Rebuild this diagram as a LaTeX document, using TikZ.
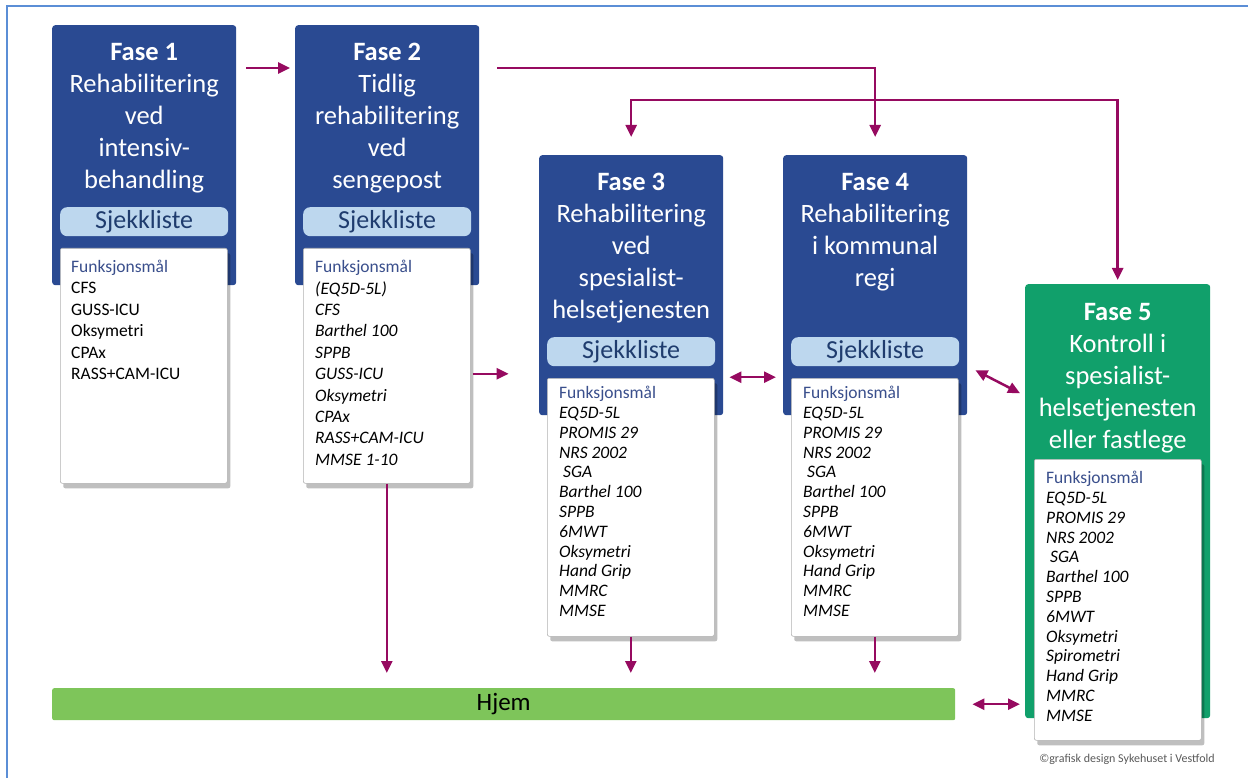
\documentclass[tikz,border=0pt]{standalone}
\usepackage{fontspec}
\setmainfont{Carlito}
\usepackage{tikz}
\usetikzlibrary{arrows.meta,positioning,calc,shadows}
\definecolor{faseblaa}{HTML}{2A4A92}
\definecolor{fasegronn}{HTML}{11A06B}
\definecolor{hjemgronn}{HTML}{7EC55A}
\definecolor{sjekkfarge}{HTML}{BDD7EE}
\definecolor{sjekktekst}{HTML}{1F3C6E}
\definecolor{maalfarge}{HTML}{3A4F8C}
\definecolor{pilfarge}{HTML}{960A60}
\definecolor{rammefarge}{HTML}{5B8ED6}
\tikzset {
    fase/.style={fill=faseblaa, rounded corners=3pt, anchor=north west,
        minimum width=184pt, minimum height=260pt, inner sep=0pt},
    tittel/.style={text=white, align=center, anchor=north, inner sep=0pt,
        font=\fontsize{26.5}{32}\selectfont},
    sjekk/.style={fill=sjekkfarge, rounded corners=7pt, anchor=north west,
        minimum width=168pt, minimum height=29pt, inner sep=0pt,
        text=sjekktekst, font=\fontsize{26}{28}\selectfont},
    liste/.style={fill=white, draw=gray!60, line width=0.6pt,
        rounded corners=2pt, anchor=north west, minimum width=167pt,
        inner sep=0pt, drop shadow={shadow xshift=3pt, shadow yshift=-5pt,
        opacity=0.25, fill=black}},
    listetekst/.style={align=left, anchor=north west, inner sep=0pt,
        font=\fontsize{17.5}{21.4}\selectfont},
    kursivtekst/.style={listetekst,
        font=\fontsize{17.5}{19.8}\selectfont\itshape},
    pil/.style={draw=pilfarge, line width=2.5pt,
        -{Triangle[length=12pt, width=11pt]}},
    dobbelpil/.style={draw=pilfarge, line width=2.5pt,
        {Triangle[length=12pt, width=11pt]}-{Triangle[length=12pt, width=11pt]}}
}
\newcommand{\maal}{{\upshape\color{maalfarge}Funksjonsmål}}

\begin{document}
\begin{tikzpicture}[x=1pt, y=-1pt]

    \useasboundingbox (0,0) rectangle (1248,778);
    % ramme
    \draw[rammefarge, line width=2pt] (7,790) -- (7,6) -- (1260,6);

    % faser
    \node[fase] (fase1) at (52,25) {};
    \node[fase] (fase2) at (295,25) {};
    \node[fase] (fase3) at (539,155) {};
    \node[fase] (fase4) at (783,155) {};
    \node[fase, fill=fasegronn, minimum width=185pt, minimum height=434pt]
        (fase5) at (1025,284) {};

    \node[tittel] (tittel1) at ([yshift=-18pt]fase1.north)
        {\textbf{Fase 1}\\Rehabilitering\\ved\\intensiv-\\behandling};
    \node[tittel] (tittel2) at ([yshift=-18pt]fase2.north)
        {\textbf{Fase 2}\\Tidlig\\rehabilitering\\ved\\sengepost};
    \node[tittel] (tittel3) at ([yshift=-18pt]fase3.north)
        {\textbf{Fase 3}\\Rehabilitering\\ved\\spesialist-\\helsetjenesten};
    \node[tittel] (tittel4) at ([yshift=-18pt]fase4.north)
        {\textbf{Fase 4}\\Rehabilitering\\i kommunal\\regi};
    \node[tittel] (tittel5) at ([yshift=-19pt]fase5.north)
        {\textbf{Fase 5}\\Kontroll i\\spesialist-\\helsetjenesten\\eller fastlege};

    \node[sjekk] (sjekk1) at (60,207) {Sjekkliste};
    \node[sjekk] (sjekk2) at (303,207) {Sjekkliste};
    \node[sjekk] (sjekk3) at (547,337) {Sjekkliste};
    \node[sjekk] (sjekk4) at (791,337) {Sjekkliste};

    % lister
    \node[liste, minimum height=235pt] (liste1) at (60,248) {};
    \node[liste, minimum height=235pt] (liste2) at (303,248) {};
    \node[liste, minimum height=258pt] (liste3) at (547,378) {};
    \node[liste, minimum height=258pt] (liste4) at (791,378) {};
    \node[liste, minimum height=281pt] (liste5) at (1034,459) {};

    \node[listetekst] at ([xshift=11pt, yshift=-12pt]liste1.north west)
        {\maal\\CFS\\GUSS-ICU\\Oksymetri\\CPAx\\RASS+CAM-ICU};
    \node[kursivtekst, font=\fontsize{17.5}{21.4}\selectfont\itshape]
        at ([xshift=12pt, yshift=-12pt]liste2.north west)
        {\maal\\(EQ5D-5L)\\CFS\\Barthel 100\\SPPB\\GUSS-ICU\\Oksymetri\\CPAx\\RASS+CAM-ICU\\MMSE 1-10};
    \node[kursivtekst] at ([xshift=12pt, yshift=-8pt]liste3.north west)
        {\maal\\EQ5D-5L\\PROMIS 29\\NRS 2002\\\ SGA\\Barthel 100\\SPPB\\6MWT\\Oksymetri\\Hand Grip\\MMRC\\MMSE};
    \node[kursivtekst] at ([xshift=12pt, yshift=-8pt]liste4.north west)
        {\maal\\EQ5D-5L\\PROMIS 29\\NRS 2002\\\ SGA\\Barthel 100\\SPPB\\6MWT\\Oksymetri\\Hand Grip\\MMRC\\MMSE};
    \node[kursivtekst] at ([xshift=12pt, yshift=-12pt]liste5.north west)
        {\maal\\EQ5D-5L\\PROMIS 29\\NRS 2002\\\ SGA\\Barthel 100\\SPPB\\6MWT\\Oksymetri\\Spirometri\\Hand Grip\\MMRC\\MMSE};

    % hjem
    \node[fill=hjemgronn, rounded corners=2pt, anchor=north west,
        minimum width=903pt, minimum height=32pt, inner sep=0pt,
        font=\fontsize{25}{28}\selectfont] (hjem) at (52,688) {Hjem};

    \node[text=gray!70!black, font=\fontsize{12}{14}\selectfont] (kilde)
        at (1127,759) {©grafisk design Sykehuset i Vestfold};

    % piler
    \coordinate (kryss) at ([yshift=55pt]fase4.north);
    \draw[pil] ([xshift=10pt, yshift=-43pt]fase1.north east)
        -- ([xshift=-5pt, yshift=-43pt]fase2.north west);
    \draw[pil] ([xshift=18pt, yshift=-43pt]fase2.north east)
        -| ([yshift=18pt]fase4.north);
    \draw[pil] (kryss) -| ([yshift=18pt]fase3.north);
    \draw[pil] (kryss) -| ([yshift=4pt]fase5.north);
    \draw[pil] ([xshift=2pt, yshift=-8pt]liste2.east)
        -- ([xshift=38pt, yshift=-8pt]liste2.east);
    \draw[pil, shorten >=15pt] (liste2.south) -- (liste2.south |- hjem.north);
    \draw[pil, shorten >=15pt] (liste3.south) -- (liste3.south |- hjem.north);
    \draw[pil, shorten >=15pt] (liste4.south) -- (liste4.south |- hjem.north);
    \draw[dobbelpil, shorten <=6pt, shorten >=7pt]
        ([yshift=-92pt]fase3.east) -- ([yshift=-92pt]fase3.east -| fase4.west);
    \draw[dobbelpil] ([xshift=8pt, yshift=-85pt]fase4.east)
        -- ([xshift=-5pt, yshift=108pt]fase5.west);
    \draw[dobbelpil, shorten <=17pt, shorten >=5pt]
        (hjem.east) -- (hjem.east -| fase5.west);

\end{tikzpicture}
\end{document}
